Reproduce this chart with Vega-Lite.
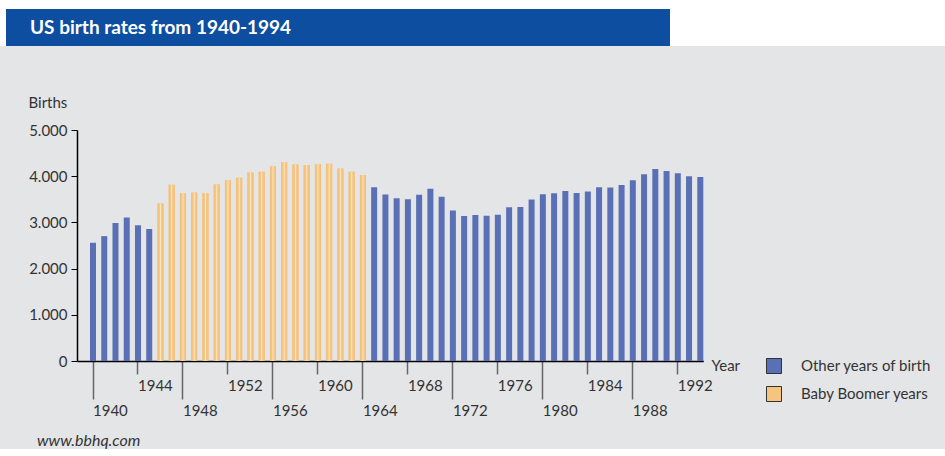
{
  "$schema": "https://vega.github.io/schema/vega-lite/v6.json",
  "background": "#e4e5e7",
  "padding": 0,
  "spacing": 49,
  "config": {
    "view": {"stroke": null},
    "font": "Lato",
    "concat": {"spacing": 0}
  },
  "vconcat": [
    {
      "spacing": 0,
      "vconcat": [
        {
          "width": 945,
          "height": 9,
          "view": {"fill": "#ffffff", "stroke": null},
          "data": {"values": []},
          "mark": "point"
        },
        {
          "spacing": 0,
          "hconcat": [
            {
              "width": 6,
              "height": 37,
              "view": {"fill": "#ffffff", "stroke": null},
              "data": {"values": []},
              "mark": "point"
            },
            {
              "width": 664,
              "height": 37,
              "view": {"fill": "#0d4ea1", "stroke": null},
              "title": {
                "text": "US birth rates from 1940-1994",
                "anchor": "start",
                "orient": "top",
                "dx": 24,
                "dy": 0.5,
                "offset": -43,
                "baseline": "alphabetic",
                "color": "#ffffff",
                "font": "Lato",
                "fontSize": 19,
                "fontWeight": "bold"
              },
              "data": {"values": []},
              "mark": "point"
            },
            {
              "width": 275,
              "height": 37,
              "view": {"fill": "#ffffff", "stroke": null},
              "data": {"values": []},
              "mark": "point"
            }
          ]
        }
      ]
    },
    {
      "width": 703,
      "height": 231,
      "title": {
        "text": "www.bbhq.com",
        "orient": "bottom",
        "anchor": "start",
        "dx": 37,
        "offset": 15,
        "font": "Lato",
        "fontSize": 16,
        "fontStyle": "italic",
        "fontWeight": "normal",
        "color": "#333333"
      },
      "data": {
        "values": [
          {"year": 1940, "births": 2559, "group": "Other years of birth"},
          {"year": 1941, "births": 2703, "group": "Other years of birth"},
          {"year": 1942, "births": 2989, "group": "Other years of birth"},
          {"year": 1943, "births": 3104, "group": "Other years of birth"},
          {"year": 1944, "births": 2939, "group": "Other years of birth"},
          {"year": 1945, "births": 2858, "group": "Other years of birth"},
          {"year": 1946, "births": 3411, "group": "Baby Boomer years"},
          {"year": 1947, "births": 3817, "group": "Baby Boomer years"},
          {"year": 1948, "births": 3637, "group": "Baby Boomer years"},
          {"year": 1949, "births": 3649, "group": "Baby Boomer years"},
          {"year": 1950, "births": 3632, "group": "Baby Boomer years"},
          {"year": 1951, "births": 3823, "group": "Baby Boomer years"},
          {"year": 1952, "births": 3913, "group": "Baby Boomer years"},
          {"year": 1953, "births": 3965, "group": "Baby Boomer years"},
          {"year": 1954, "births": 4078, "group": "Baby Boomer years"},
          {"year": 1955, "births": 4097, "group": "Baby Boomer years"},
          {"year": 1956, "births": 4218, "group": "Baby Boomer years"},
          {"year": 1957, "births": 4300, "group": "Baby Boomer years"},
          {"year": 1958, "births": 4255, "group": "Baby Boomer years"},
          {"year": 1959, "births": 4245, "group": "Baby Boomer years"},
          {"year": 1960, "births": 4258, "group": "Baby Boomer years"},
          {"year": 1961, "births": 4268, "group": "Baby Boomer years"},
          {"year": 1962, "births": 4167, "group": "Baby Boomer years"},
          {"year": 1963, "births": 4098, "group": "Baby Boomer years"},
          {"year": 1964, "births": 4027, "group": "Baby Boomer years"},
          {"year": 1965, "births": 3760, "group": "Other years of birth"},
          {"year": 1966, "births": 3606, "group": "Other years of birth"},
          {"year": 1967, "births": 3521, "group": "Other years of birth"},
          {"year": 1968, "births": 3502, "group": "Other years of birth"},
          {"year": 1969, "births": 3600, "group": "Other years of birth"},
          {"year": 1970, "births": 3731, "group": "Other years of birth"},
          {"year": 1971, "births": 3556, "group": "Other years of birth"},
          {"year": 1972, "births": 3258, "group": "Other years of birth"},
          {"year": 1973, "births": 3137, "group": "Other years of birth"},
          {"year": 1974, "births": 3160, "group": "Other years of birth"},
          {"year": 1975, "births": 3144, "group": "Other years of birth"},
          {"year": 1976, "births": 3168, "group": "Other years of birth"},
          {"year": 1977, "births": 3327, "group": "Other years of birth"},
          {"year": 1978, "births": 3333, "group": "Other years of birth"},
          {"year": 1979, "births": 3494, "group": "Other years of birth"},
          {"year": 1980, "births": 3612, "group": "Other years of birth"},
          {"year": 1981, "births": 3629, "group": "Other years of birth"},
          {"year": 1982, "births": 3681, "group": "Other years of birth"},
          {"year": 1983, "births": 3639, "group": "Other years of birth"},
          {"year": 1984, "births": 3669, "group": "Other years of birth"},
          {"year": 1985, "births": 3761, "group": "Other years of birth"},
          {"year": 1986, "births": 3757, "group": "Other years of birth"},
          {"year": 1987, "births": 3809, "group": "Other years of birth"},
          {"year": 1988, "births": 3910, "group": "Other years of birth"},
          {"year": 1989, "births": 4041, "group": "Other years of birth"},
          {"year": 1990, "births": 4158, "group": "Other years of birth"},
          {"year": 1991, "births": 4111, "group": "Other years of birth"},
          {"year": 1992, "births": 4065, "group": "Other years of birth"},
          {"year": 1993, "births": 4000, "group": "Other years of birth"},
          {"year": 1994, "births": 3985, "group": "Other years of birth"}
        ]
      },
      "encoding": {
        "x": {
          "field": "year",
          "type": "ordinal",
          "scale": {"range": [77, 703.3], "paddingInner": 0.466, "paddingOuter": 0.578, "align": 1},
          "axis": {
            "values": [1940, 1944, 1948, 1952, 1956, 1960, 1964, 1968, 1972, 1976, 1980, 1984, 1988, 1992],
            "labelAngle": 0,
            "labelAlign": "left",
            "labelBaseline": "top",
            "labelPadding": 4,
            "labelFont": "Lato",
            "labelFontSize": 15,
            "labelColor": "#333333",
            "labelOverlap": false,
            "tickSize": {"condition": {"test": "datum.value % 8 == 4", "value": 38}, "value": 13},
            "tickColor": "#666666",
            "tickWidth": 1.5,
            "domainColor": "#000000",
            "domainWidth": 1.5,
            "title": "Year",
            "titleX": 711,
            "titleY": 4,
            "titleAlign": "left",
            "titleBaseline": "middle",
            "titleFont": "Lato",
            "titleFontSize": 15,
            "titleFontWeight": "normal",
            "titleColor": "#333333"
          }
        },
        "y": {
          "field": "births",
          "type": "quantitative",
          "scale": {"domain": [0, 5000], "nice": false},
          "axis": {
            "offset": -77,
            "values": [0, 1000, 2000, 3000, 4000, 5000],
            "labelExpr": "replace(format(datum.value, ','), ',', '.')",
            "grid": false,
            "tickSize": 6,
            "tickColor": "#000000",
            "tickWidth": 1,
            "domainColor": "#000000",
            "domainWidth": 1.5,
            "labelPadding": 4,
            "labelFont": "Lato",
            "labelFontSize": 15,
            "labelColor": "#333333",
            "title": "Births",
            "titleAngle": 0,
            "titleAlign": "left",
            "titleBaseline": "middle",
            "titleX": -49,
            "titleY": -28,
            "titleFont": "Lato",
            "titleFontSize": 15,
            "titleFontWeight": "normal",
            "titleColor": "#333333"
          }
        }
      },
      "layer": [
        {
          "mark": {"type": "bar"},
          "encoding": {
            "color": {
              "field": "group",
              "type": "nominal",
              "scale": {
                "domain": ["Other years of birth", "Baby Boomer years"],
                "range": ["#5a70b6", "#f5c47f"]
              },
              "legend": {
                "orient": "none",
                "legendX": 766,
                "legendY": 358,
                "title": null,
                "padding": 0,
                "symbolType": "square",
                "symbolSize": 225,
                "symbolStrokeColor": "#333333",
                "symbolStrokeWidth": 1,
                "symbolOpacity": 1,
                "labelFont": "Lato",
                "labelFontSize": 15,
                "labelColor": "#333333",
                "labelOffset": 19,
                "rowPadding": 8
              }
            }
          }
        },
        {
          "transform": [{"filter": "datum.group == 'Baby Boomer years'"}],
          "mark": {
            "type": "bar",
            "fill": {
              "gradient": "linear",
              "x1": 0, "y1": 0, "x2": 1, "y2": 0,
              "stops": [
                {"offset": 0, "color": "#f2bd76"},
                {"offset": 0.35, "color": "#f5c887"},
                {"offset": 0.5, "color": "#fde6bf"},
                {"offset": 0.65, "color": "#f6ca8b"},
                {"offset": 1, "color": "#f2bd76"}
              ]
            }
          }
        }
      ]
    }
  ]
}
